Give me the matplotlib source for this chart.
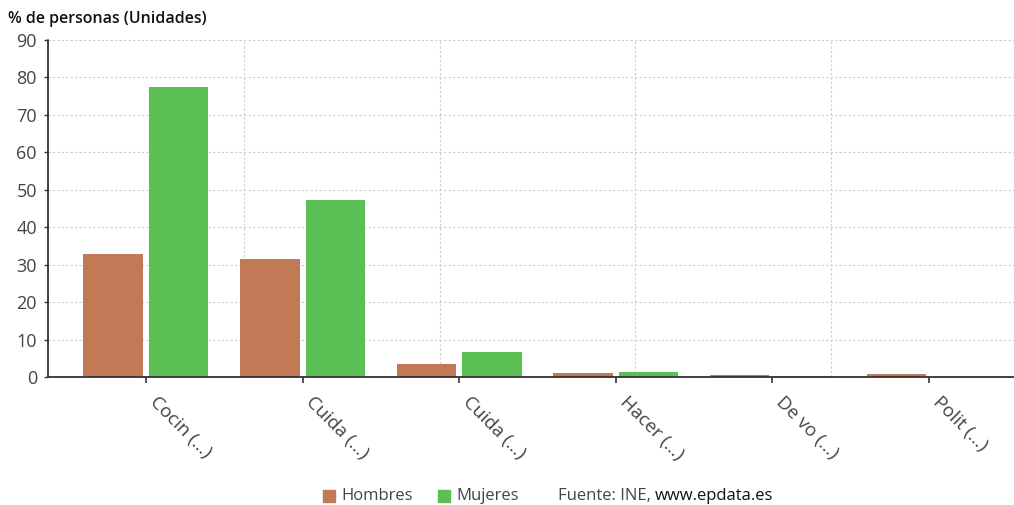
import matplotlib
matplotlib.use("Agg")
import matplotlib.pyplot as plt
from matplotlib.patches import Rectangle
import numpy as np

plt.rcParams["font.family"] = ["Open Sans", "DejaVu Sans"]

categorias = ["Cocin (...)", "Cuida (...)", "Cuida (...)", "Hacer (...)",
              "De vo (...)", "Polit (...)"]
hombres = [32.9, 31.4, 3.5, 1.2, 0.5, 0.7]
mujeres = [77.5, 47.3, 6.7, 1.35, 0.2, 0.0]
yticks = [0, 10, 20, 30, 40, 50, 60, 70, 80, 90]

COL_H = "#C27A56"
COL_M = "#5BBF54"
TXT = "#444444"

fig = plt.figure(figsize=(10.14, 5.05), dpi=100)
ax = fig.add_axes([48 / 1014, 128 / 505, 979 / 1014, 337 / 505])

x = np.arange(len(categorias))
off, w = 0.209, 0.38
ax.bar(x - off, hombres, w, color=COL_H, zorder=3)
ax.bar(x + off, mujeres, w, color=COL_M, zorder=3)

ax.set_xlim(-0.625, len(categorias) - 0.375)
ax.set_ylim(0, 90)
ax.set_yticks(yticks)
ax.set_xticks(x)
ax.set_xticklabels(categorias, rotation=-45, ha="left", va="bottom",
                   rotation_mode="anchor", fontsize=13.5, color=TXT)
ax.tick_params(axis="x", length=4, width=1.2, color="#333", pad=17)
ax.tick_params(axis="y", length=3, width=1, color="#333", labelsize=13,
               labelcolor=TXT, pad=5)

# rejilla horizontal en los ticks, vertical en cinco tramos iguales
for yv in yticks[1:]:
    ax.axhline(yv, color="#cccccc", lw=0.8, ls=(0, (2, 2)), zorder=1)
x0, x1 = ax.get_xlim()
for k in range(1, 5):
    ax.axvline(x0 + (x1 - x0) * k / 5, color="#cccccc", lw=0.8,
               ls=(0, (2, 2)), zorder=1)

for s in ("top", "right"):
    ax.spines[s].set_visible(False)
for s in ("left", "bottom"):
    ax.spines[s].set_color("#333333")
    ax.spines[s].set_linewidth(1.3)
    ax.spines[s].set_linestyle((0, (1.5, 1)))
ax.spines["bottom"].set_zorder(4)

fig.text(8 / 1014, 1 - 19 / 505, "% de personas (Unidades)", fontsize=11.5,
         fontweight="semibold", color="#111", va="center")

# leyenda y fuente
ly = 1 - 496 / 505
for px, col, lab in [(323, COL_H, "Hombres"), (438, COL_M, "Mujeres")]:
    fig.patches.append(Rectangle((px / 1014, ly - 6 / 505), 12 / 1014,
                                 12 / 505, transform=fig.transFigure,
                                 color=col))
    fig.text((px + 18) / 1014, ly, lab, fontsize=12, color=TXT,
             va="center")
fuente = fig.text(558 / 1014, ly, "Fuente: INE, ", fontsize=12, color=TXT,
                  va="center")
fig.text(0, 0, "www.epdata.es", fontsize=12, color="#111", va="center")
fig.canvas.draw()
bb = fuente.get_window_extent().transformed(fig.transFigure.inverted())
fig.texts[-1].set_position((bb.x1, ly))

fig.savefig("out.png", dpi=100)
